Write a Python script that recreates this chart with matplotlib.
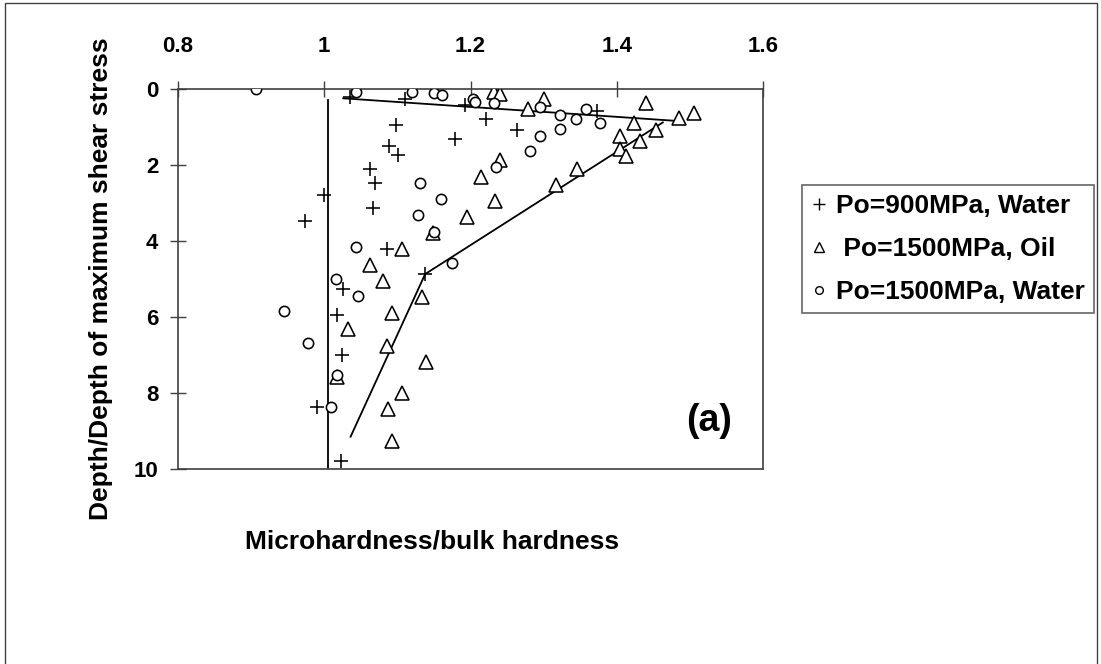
#!/usr/bin/env python3
"""Microhardness profile below the contact surface, panel (a)."""
import matplotlib
matplotlib.use("Agg")
import matplotlib.pyplot as plt
from matplotlib.lines import Line2D
from matplotlib.patches import Rectangle

plt.rcParams["font.family"] = ["Liberation Sans", "DejaVu Sans"]
plt.rcParams["font.weight"] = "bold"

# Po=900MPa, Water (plus)
plus_x = [1.035, 1.111, 1.193, 1.221, 1.098, 1.373, 1.264, 1.179, 1.088, 1.101, 1.062,
          1.070, 0.999, 1.067, 0.974, 1.086, 1.138, 1.026, 1.018, 1.024, 0.990, 1.023]
plus_y = [0.20, 0.27, 0.42, 0.80, 0.95, 0.57, 1.09, 1.32, 1.50, 1.74, 2.10,
          2.48, 2.78, 3.14, 3.47, 4.21, 4.87, 5.27, 5.95, 7.00, 8.38, 9.79]

# Po=1500MPa, Oil (triangle)
tri_x = [1.232, 1.240, 1.300, 1.279, 1.440, 1.423, 1.485, 1.505, 1.453, 1.404, 1.432,
         1.404, 1.412, 1.240, 1.346, 1.317, 1.215, 1.233, 1.195, 1.149, 1.106, 1.062,
         1.081, 1.133, 1.092, 1.032, 1.086, 1.139, 1.017, 1.106, 1.087, 1.092]
tri_y = [0.07, 0.13, 0.27, 0.53, 0.36, 0.89, 0.75, 0.64, 1.08, 1.24, 1.37,
         1.59, 1.75, 1.88, 2.10, 2.53, 2.32, 2.96, 3.36, 3.80, 4.21, 4.63,
         5.04, 5.48, 5.90, 6.32, 6.75, 7.18, 7.57, 7.99, 8.43, 9.26]

# Po=1500MPa, Water (circle)
circ_x = [0.907, 1.043, 1.120, 1.150, 1.161, 1.203, 1.206, 1.232, 1.295, 1.322, 1.344,
          1.358, 1.377, 1.322, 1.295, 1.281, 1.235, 1.131, 1.159, 1.128, 1.150, 1.043,
          1.175, 1.016, 1.046, 0.945, 0.978, 1.017, 1.009]
circ_y = [0.01, 0.07, 0.07, 0.11, 0.16, 0.27, 0.33, 0.38, 0.48, 0.68, 0.80,
          0.53, 0.90, 1.06, 1.23, 1.62, 2.05, 2.48, 2.89, 3.32, 3.75, 4.17,
          4.57, 5.01, 5.44, 5.84, 6.69, 7.52, 8.38]

# hand-drawn trend lines
bulk_x = [1.005, 1.005]
bulk_y = [0.29, 10.0]
surf_x = [1.026, 1.482]
surf_y = [0.245, 0.84]
oil_x = [1.036, 1.138, 1.463]
oil_y = [9.15, 4.87, 0.88]

X_TICKS = [0.8, 1.0, 1.2, 1.4, 1.6]
X_LABELS = ["0.8", "1", "1.2", "1.4", "1.6"]
Y_TICKS = [0, 2, 4, 6, 8, 10]

LABELS = ["Po=900MPa, Water", " Po=1500MPa, Oil", "Po=1500MPa, Water"]

W, H = 1101, 664
GRAY = "#404040"

fig = plt.figure(figsize=(W / 100, H / 100), dpi=100)
ax = fig.add_axes([178 / W, 1 - 469 / H, 585 / W, 380 / H])

line_kw = dict(color="black", lw=1.3, zorder=2)
ax.plot(bulk_x, bulk_y, **line_kw)
ax.plot(surf_x, surf_y, **line_kw)
ax.plot(oil_x, oil_y, **line_kw)

mk = dict(ls="none", color="black", mfc="white", mew=1.15, zorder=3)
ax.plot(plus_x, plus_y, marker="+", ms=10.5, **mk)
ax.plot(tri_x, tri_y, marker="^", ms=9.5, **mk)
ax.plot(circ_x, circ_y, marker="o", ms=7.4, **mk)

ax.set_xlim(0.8, 1.6)
ax.set_ylim(10, 0)
ax.set_xticks(X_TICKS)
ax.set_xticklabels(X_LABELS)
ax.set_yticks(Y_TICKS)
ax.set_yticklabels([str(v) for v in Y_TICKS])
ax.tick_params(axis="x", top=True, bottom=False, labeltop=True, labelbottom=False,
               direction="inout", length=11.5, width=1.0, color=GRAY,
               pad=17, labelsize=16)
ax.tick_params(axis="y", right=False, direction="inout", length=11.5, width=1.0,
               color=GRAY, pad=8.5, labelsize=16)
for s in ax.spines.values():
    s.set_color(GRAY)
    s.set_linewidth(1.2)

ax.set_xlabel("Microhardness/bulk hardness", fontsize=19, fontweight="bold")
ax.xaxis.set_label_coords(0.434, -0.192)
ax.xaxis.label.set_va("center")
ax.set_ylabel("Depth/Depth of maximum shear stress", fontsize=19, fontweight="bold")
ax.yaxis.set_label_coords(-0.132, 0.5)
ax.yaxis.label.set_va("center")

ax.text((709 - 178) / 585, (469 - 421) / 380, "(a)", transform=ax.transAxes,
        ha="center", va="center", fontsize=27, fontweight="bold")

handles = [
    Line2D([0], [0], ls="none", marker="+", ms=8, color="black", mew=1.0),
    Line2D([0], [0], ls="none", marker="^", ms=6.5, color="black", mfc="white", mew=1.0),
    Line2D([0], [0], ls="none", marker="o", ms=5.5, color="black", mfc="white", mew=1.0),
]
leg = fig.legend(handles, LABELS, loc="upper left",
                 bbox_to_anchor=(802 / W, 1 - 185 / H), bbox_transform=fig.transFigure,
                 borderaxespad=0, fontsize=19, frameon=True, fancybox=False,
                 borderpad=0.35, labelspacing=0.72, handlelength=0.6,
                 handletextpad=0.35)
leg.get_frame().set_edgecolor(GRAY)
leg.get_frame().set_linewidth(1.2)
for t in leg.get_texts():
    t.set_fontweight("bold")

# outer chart border (bottom edge falls outside the picture)
fig.add_artist(Rectangle((5 / W, -0.05), (1097 - 5) / W, 1.05 - 3 / H,
                         transform=fig.transFigure, fill=False,
                         edgecolor=GRAY, lw=1.0))

fig.savefig("out.png", dpi=100)
